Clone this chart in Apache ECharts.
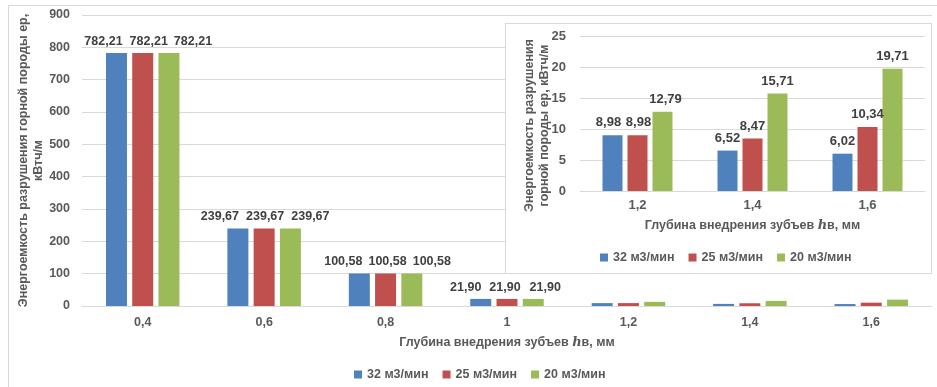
<!DOCTYPE html>
<html><head><meta charset="utf-8">
<script src="https://cdn.jsdelivr.net/npm/echarts@6/dist/echarts.min.js"></script>
<style>
html,body{margin:0;padding:0;background:#fff;}
#wrap{position:relative;width:937px;height:387px;overflow:hidden;}
#frame{position:absolute;left:8px;top:5px;width:940px;height:400px;border:1px solid #d9d9d9;box-sizing:border-box;}
#main{position:absolute;left:0;top:0;width:937px;height:387px;}
#inset{position:absolute;left:505px;top:23px;width:427px;height:251px;border:1px solid #d9d9d9;box-sizing:border-box;background:#fff;}
#inner{width:425px;height:249px;}
</style></head>
<body>
<div id="wrap">
<div id="frame"></div>
<div id="main"></div>
<div id="inset"><div id="inner"></div></div>
</div>
<script>
var categories = ['0,4','0,6','0,8','1','1,2','1,4','1,6'];
var s32 = [782.21, 239.67, 100.58, 21.90, 8.98, 6.52, 6.02];
var s25 = [782.21, 239.67, 100.58, 21.90, 8.98, 8.47, 10.34];
var s20 = [782.21, 239.67, 100.58, 21.90, 12.79, 15.71, 19.71];
var seriesNames = ['32 м3/мин','25 м3/мин','20 м3/мин'];
var labeledCount = 4;
var insetCategories = ['1,2','1,4','1,6'];
var insetFrom = 4;

var colors = ['#4F81BD','#C0504D','#9BBB59'];
var FF = '"Liberation Sans", Arial, sans-serif';
function fmt(v){ return v.toFixed(2).replace('.', ','); }

// label spreading (Excel moved labels apart so they don't overlap)
var mainLabelShift = [
  [[-13,0],[-18,0],[-16,0],[-15,0]],
  [[6,0],[1,0],[2,0],[-2,0]],
  [[24,0],[20,0],[20,0],[12,0]]
];
var insetLabelShift = [
  [[-4,0],[0,0],[0,0]],
  [[1,0],[0,0],[0,0]],
  [[3,0],[0,0],[0,0]]
];

function mkMainSeries(k, arr){
  return {
    name: seriesNames[k], type: 'bar', barWidth: 21, barGap: '25%',
    itemStyle: {color: colors[k]},
    data: arr.map(function(v,i){
      return {value: v, label: {show: i < labeledCount, offset: i < labeledCount ? mainLabelShift[k][i] : [0,0]}};
    }),
    label: {show: true, position: 'top', distance: 5, color: '#404040', fontFamily: FF,
      fontWeight: 'bold', fontSize: 12.5, formatter: function(p){ return fmt(p.value); }}
  };
}
function mkInsetSeries(k, arr){
  return {
    name: seriesNames[k], type: 'bar', barWidth: 20, barGap: '25%',
    itemStyle: {color: colors[k]},
    data: arr.slice(insetFrom).map(function(v,i){
      return {value: v, label: {offset: insetLabelShift[k][i]}};
    }),
    label: {show: true, position: 'top', distance: 6, color: '#404040', fontFamily: FF,
      fontWeight: 'bold', fontSize: 13, formatter: function(p){ return fmt(p.value); }}
  };
}
var xName = '{n|Глубина внедрения зубъев }{i|h}{n|в, мм}';
var xNameRich = {
  n: {fontFamily: FF, fontWeight: 'bold', fontSize: 12.5, color: '#595959'},
  i: {fontFamily: 'DejaVu Serif, serif', fontStyle: 'italic', fontWeight: 'bold', fontSize: 13, color: '#595959'}
};

var main = echarts.init(document.getElementById('main'));
main.setOption({
  animation: false,
  grid: {left: 82, right: 5, top: 15, bottom: 81, outerBoundsMode: 'none', containLabel: false},
  legend: {
    data: seriesNames, bottom: 1, left: 349, itemWidth: 8, itemHeight: 8, itemGap: 14,
    icon: 'rect', textStyle: {fontFamily: FF, fontWeight: 'bold', fontSize: 12.5, color: '#595959'}
  },
  xAxis: {
    type: 'category', data: categories,
    axisLine: {lineStyle: {color: '#d9d9d9'}}, axisTick: {show: false},
    axisLabel: {fontFamily: FF, fontWeight: 'bold', fontSize: 12.5, color: '#595959', margin: 10},
    name: xName, nameLocation: 'middle', nameGap: 30, nameMoveOverlap: false,
    nameTextStyle: {rich: xNameRich}
  },
  yAxis: {
    type: 'value', min: 0, max: 900, interval: 100,
    splitLine: {lineStyle: {color: '#d9d9d9'}},
    axisLabel: {fontFamily: FF, fontWeight: 'bold', fontSize: 12.5, color: '#595959', margin: 12},
    name: 'Энергоемкость разрушения горной породы ep,\nкВтч/м', nameLocation: 'middle', nameGap: 36,
    nameMoveOverlap: false,
    nameTextStyle: {fontFamily: FF, fontWeight: 'bold', fontSize: 12.5, color: '#595959', lineHeight: 15}
  },
  series: [mkMainSeries(0, s32), mkMainSeries(1, s25), mkMainSeries(2, s20)]
});

var inset = echarts.init(document.getElementById('inner'));
inset.setOption({
  animation: false,
  grid: {left: 74, right: 6, top: 12, bottom: 82, outerBoundsMode: 'none', containLabel: false},
  legend: {
    data: seriesNames, top: 222, left: 89, itemWidth: 8, itemHeight: 8, itemGap: 14,
    icon: 'rect', textStyle: {fontFamily: FF, fontWeight: 'bold', fontSize: 12.5, color: '#595959'}
  },
  xAxis: {
    type: 'category', data: insetCategories,
    axisLine: {lineStyle: {color: '#d9d9d9'}}, axisTick: {show: false},
    axisLabel: {fontFamily: FF, fontWeight: 'bold', fontSize: 13, color: '#595959', margin: 8},
    name: xName, nameLocation: 'middle', nameGap: 28, nameMoveOverlap: false,
    nameTextStyle: {rich: xNameRich}
  },
  yAxis: {
    type: 'value', min: 0, max: 25, interval: 5,
    splitLine: {lineStyle: {color: '#d9d9d9'}},
    axisLabel: {fontFamily: FF, fontWeight: 'bold', fontSize: 13, color: '#595959', margin: 14},
    name: 'Энергоемкость разрушения\nгорной породы ep, кВтч/м', nameLocation: 'middle', nameGap: 28,
    nameMoveOverlap: false,
    nameTextStyle: {fontFamily: FF, fontWeight: 'bold', fontSize: 12.5, color: '#595959', lineHeight: 15, padding: [0, 24, 0, 0]}
  },
  series: [mkInsetSeries(0, s32), mkInsetSeries(1, s25), mkInsetSeries(2, s20)]
});
</script>
</body></html>
